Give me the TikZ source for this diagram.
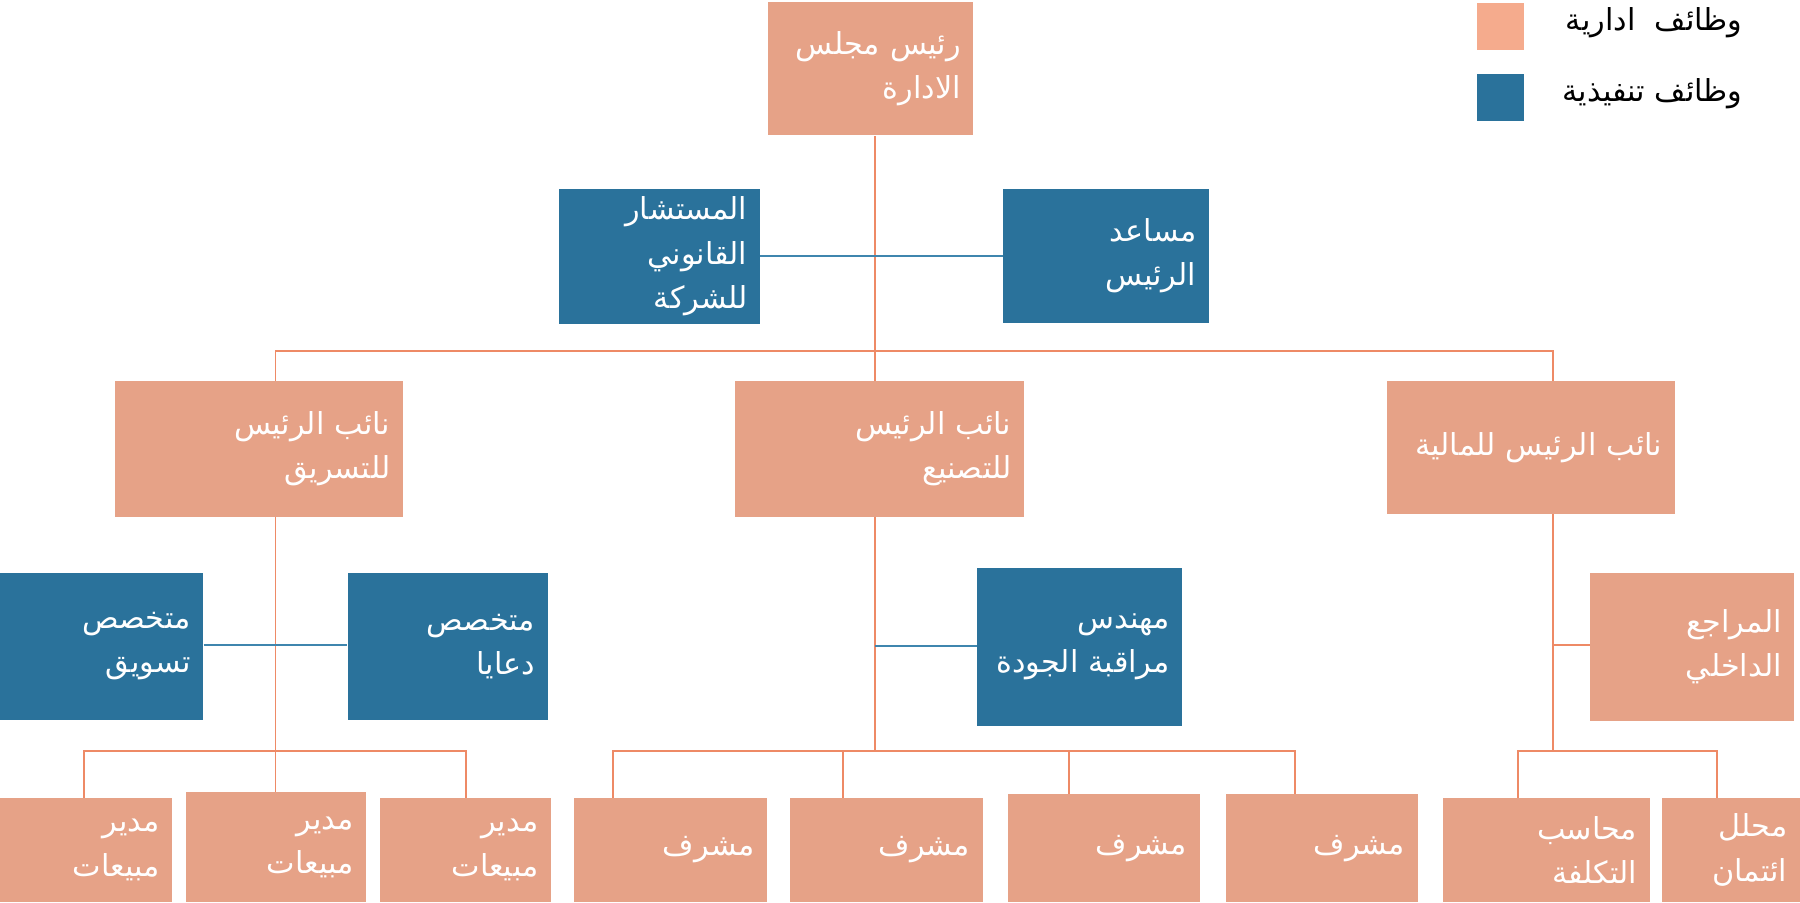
\documentclass[tikz,border=0pt]{standalone}
\usepackage{fontspec}
\newfontfamily\arabicfont[Script=Arabic]{DejaVu Sans}
\TeXXeTstate=1
\definecolor{sal}{HTML}{E6A287}
\definecolor{leg}{HTML}{F5AB8D}
\definecolor{blu}{HTML}{2A729B}
\definecolor{ln}{HTML}{EE8A66}
\definecolor{bln}{HTML}{3F86AE}
\newcommand\ar[1]{\beginR #1\endR}
\newcommand\bx[7]{\node[#6, minimum width={(#4-#2)*0.02cm}, minimum height={(#5-#3)*0.02cm},
  text width={(#4-#2-22)*0.02cm}] (#1) at ({(#2+#4)/2},{(#3+#5)/2}) {#7};}
\tikzset{
  salbox/.style={fill=sal, text=white, align=right, inner sep=0pt, font=\arabicfont\fontsize{15}{22}\selectfont},
  blubox/.style={fill=blu, text=white, align=right, inner sep=0pt, font=\arabicfont\fontsize{15}{22}\selectfont},
  con/.style={draw=ln, line width=0.9pt},
  bcon/.style={draw=bln, line width=0.9pt}
}
\begin{document}
\begin{tikzpicture}[x=0.02cm,y=-0.02cm]
\useasboundingbox (0,0) rectangle (1568,786);
% legend
\fill[white] (1280,0) rectangle (1560,110);
\node[fill=leg, minimum size=0.82cm, inner sep=0] (l1) at (1307,23) {};
\node[fill=blu, minimum size=0.82cm, inner sep=0] (l2) at (1307,85) {};
\node[anchor=east, font=\arabicfont\fontsize{15}{20}\selectfont] (t1) at (1524,20) {\ar{وظائف\ \ ادارية}};
\node[anchor=east, font=\arabicfont\fontsize{15}{20}\selectfont] (t2) at (1524,82) {\ar{وظائف تنفيذية}};
% boxes
\bx{chair}{669}{2}{848}{118}{salbox}{\ar{رئيس مجلس}\\\ar{الادارة}}
\bx{legal}{487}{165}{662}{282}{blubox}{\ar{المستشار}\\\ar{القانوني}\\\ar{للشركة}}
\bx{assist}{874}{165}{1053}{281}{blubox}{\ar{مساعد}\\\ar{الرئيس}}
\bx{vpmk}{100}{332}{351}{450}{salbox}{\ar{نائب الرئيس}\\\ar{للتسريق}}
\bx{vpmf}{640}{332}{892}{450}{salbox}{\ar{نائب الرئيس}\\\ar{للتصنيع}}
\bx{vpf}{1208}{332}{1459}{448}{salbox}{\ar{نائب الرئيس للمالية}}
\bx{mk1}{0}{499}{177}{627}{blubox}{\ar{متخصص}\\\ar{تسويق}}
\bx{mk2}{303}{499}{477}{627}{blubox}{\ar{متخصص}\\\ar{دعايا}}
\bx{qe}{851}{495}{1030}{632}{blubox}{\ar{مهندس}\\\ar{مراقبة الجودة}}
\bx{aud}{1385}{499}{1563}{628}{salbox}{\ar{المراجع}\\\ar{الداخلي}}
\bx{s1}{0}{695}{150}{786}{salbox}{\ar{مدير}\\\ar{مبيعات}}
\bx{s2}{162}{690}{319}{786}{salbox}{\ar{مدير}\\\ar{مبيعات}}
\bx{s3}{331}{695}{480}{786}{salbox}{\ar{مدير}\\\ar{مبيعات}}
\bx{m1}{500}{695}{668}{786}{salbox}{\centering\ar{مشرف}}
\bx{m2}{688}{695}{856}{786}{salbox}{\centering\ar{مشرف}}
\bx{m3}{878}{692}{1045}{786}{salbox}{\centering\ar{مشرف}}
\bx{m4}{1068}{692}{1235}{786}{salbox}{\centering\ar{مشرف}}
\bx{f1}{1257}{695}{1437}{786}{salbox}{\ar{محاسب}\\\ar{التكلفة}}
\bx{f2}{1448}{695}{1568}{786}{salbox}{\ar{محلل}\\\ar{ائتمان}}
% connectors
\coordinate (top) at (762,306);
\coordinate (mkj) at (240,654);
\coordinate (mfj) at (762,654);
\coordinate (fj) at (1353,654);
\draw[con] (chair.south -| top) -- (top);
\draw[con] (top) -- (vpmf.north -| top);
\draw[con] (top) -| (240,332);
\draw[con] (top) -| (1353,332);
\draw[bcon] (legal.east |- 0,223) -- (assist.west |- 0,223);
% marketing
\draw[con] (240,450) -- (mkj);
\draw[bcon] (mk1.east |- 0,562) -- (mk2.west |- 0,562);
\draw[con] (mkj) -| (73,695);
\draw[con] (mkj) -- (240,690);
\draw[con] (mkj) -| (406,695);
% manufacturing
\draw[con] (762,450) -- (mfj);
\draw[bcon] (762,563) -- (qe.west |- 0,563);
\draw[con] (mfj) -| (534,695);
\draw[con] (mfj) -| (734,695);
\draw[con] (mfj) -| (931,692);
\draw[con] (mfj) -| (1128,692);
% finance
\draw[con] (1353,448) -- (fj);
\draw[con] (1353,562) -- (aud.west |- 0,562);
\draw[con] (fj) -| (1322,695);
\draw[con] (fj) -| (1496,695);
\end{tikzpicture}
\end{document}
